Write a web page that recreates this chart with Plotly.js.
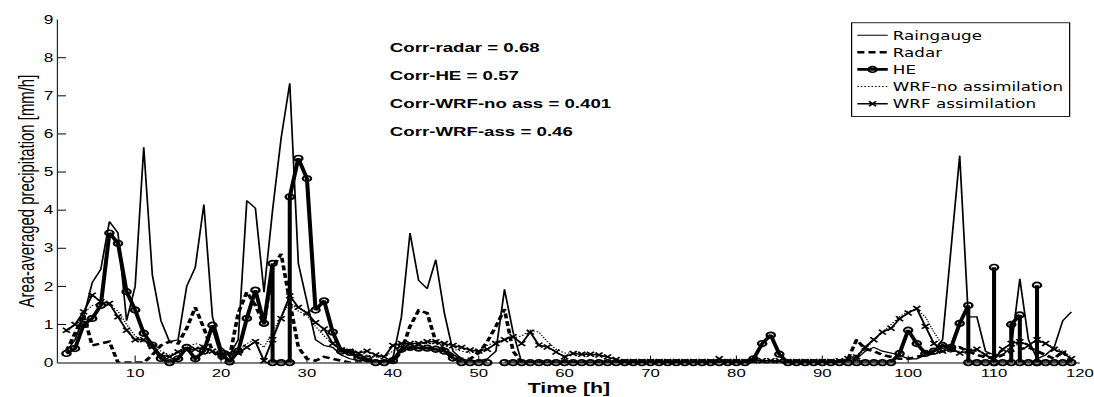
<!DOCTYPE html>
<html>
<head>
<meta charset="utf-8">
<script src="https://cdn.plot.ly/plotly-3.0.1.min.js"></script>
<style>
html, body { margin: 0; padding: 0; background: #fff; overflow: hidden; }
#wrap { width: 1094px; height: 397px; overflow: hidden; }
#chart { width: 1077.83px; height: 567.14px; transform: scale(1.015, 0.7); transform-origin: 0 0; }
</style>
</head>
<body>
<div id="wrap"><div id="chart"></div></div>
<script>
// Hours 2..119
const hours = [];
for (let h = 2; h <= 119; h++) hours.push(h);

const raingauge = [
  0.3, 0.6, 1.2, 2.1, 2.45, 3.7, 3.4, 1.1,          // 2-9
  2.0, 5.65, 2.3, 1.1, 0.55, 0.6, 2.0, 2.5, 4.15, 1.2, // 10-19
  0.4, 0.2, 0.6, 4.25, 4.05, 1.85, 4.0, 5.9, 7.33, 2.6, // 20-29
  1.6, 0.6, 0.45, 0.4, 0.2, 0.1, 0.05, 0.05, 0.05, 0.05, // 30-39
  0.1, 1.2, 3.4, 2.16, 1.94, 2.7, 1.3, 0.3, 0.1, 0.05, // 40-49
  0.05, 0.1, 0.3, 1.92, 0.8, 0, 0, 0, 0, 0,           // 50-59
  0, 0, 0, 0, 0, 0, 0, 0, 0, 0,                       // 60-69
  0, 0, 0, 0, 0, 0, 0, 0, 0, 0,                       // 70-79
  0, 0, 0, 0, 0, 0, 0, 0, 0, 0,                       // 80-89
  0, 0, 0, 0.05, 0.1, 0.3, 0.4, 0.3, 0.25, 0.2,       // 90-99
  0.1, 0.1, 0.2, 0.3, 0.6, 3.0, 5.43, 1.2, 1.2, 0.3,  // 100-109
  0.2, 0.2, 0.4, 2.2, 0.6, 0.1, 0.2, 0.4, 1.1, 1.33   // 110-119
];

const radar = [
  0.3, 0.8, 1.25, 0.45, 0.5, 0.55, 0.0, 0,            // 2-9
  0, 0, 0.2, 0.45, 0.55, 0.5, 0.9, 1.45, 0.9, 0.3,    // 10-19
  0.1, 0.15, 1.3, 1.85, 1.5, 1.0, 2.5, 2.85, 1.6, 0.4, // 20-29
  0.1, 0.05, 0.15, 0.1, 0.05, 0, 0, 0, 0, 0,          // 30-39
  0, 0.3, 0.95, 1.37, 1.3, 0.55, 0.35, 0.2, 0.1, 0.1, // 40-49
  0.25, 0.55, 0.95, 1.4, 0.3, 0, 0, 0, 0, 0,          // 50-59
  0, 0, 0, 0, 0, 0, 0, 0, 0, 0,                       // 60-69
  0, 0, 0, 0, 0, 0, 0, 0, 0, 0,                       // 70-79
  0, 0, 0, 0, 0, 0, 0, 0, 0, 0,                       // 80-89
  0, 0, 0, 0.1, 0.6, 0.35, 0.3, 0.2, 0.15, 0.1,       // 90-99
  0.1, 0.15, 0.2, 0.25, 0.3, 0.3, 0.4, 0.3, 0.2, 0.15, // 100-109
  0.1, 0.2, 0.3, 0.35, 0.4, 0.3, 0.2, 0.1, 0.3, 0.0   // 110-119
];

// HE: repeated hours mark the vertical jumps seen in the original series
const heTime = [
  2, 3, 4, 5, 6, 7, 8, 9, 10, 11, 12, 13, 14, 15, 16, 17, 18, 19,
  20, 21, 22, 23, 24, 25, 26, 26, 27, 28, 28, 29,
  30, 31, 32, 33, 34, 35, 36, 37, 38, 39,
  40, 41, 42, 43, 44, 45, 46, 47, 48, 49, 50, 51, 52,
  53, 54, 55, 56, 57, 58, 59, 60, 61, 62, 63, 64, 65, 66, 67, 68, 69,
  70, 71, 72, 73, 74, 75, 76, 77, 78, 79, 80, 81, 82, 83, 84, 85, 86, 87, 88, 89,
  90, 91, 92, 93, 94, 95, 96, 97, 98, 99,
  100, 101, 102, 103, 104, 105, 106, 107, 107, 108, 109,
  110, 110, 110, 111, 112, 112, 113, 113, 114, 115, 115, 115, 116, 117, 118, 119
];
const heValue = [
  0.24, 0.37, 1.0, 1.16, 1.5, 3.4, 3.13, 1.86, 1.38, 0.77, 0.46, 0.11, 0.0, 0.1, 0.4, 0.1, 0.3, 0.98,
  0.25, 0.02, 0.3, 1.16, 1.9, 1.03, 2.6, 0, 0, 0, 4.35, 5.36,
  4.83, 1.38, 1.62, 0.8, 0.3, 0.27, 0.13, 0.1, 0, 0,
  0.05, 0.35, 0.4, 0.38, 0.38, 0.35, 0.3, 0.12, 0, 0, 0, 0, null,
  0, 0, 0, 0, 0, 0, 0, 0, 0, 0, 0, 0, 0, 0, 0, 0, 0,
  0, 0, 0, 0, 0, 0, 0, 0, 0, 0, 0, 0, 0.1, 0.5, 0.72, 0.22, 0, 0, 0, 0,
  0, 0, 0, 0, 0, 0, 0, 0, 0, 0.24,
  0.85, 0.5, 0.24, 0.3, 0.45, 0.4, 1.03, 1.5, 0, 0, 0,
  0, 2.5, 0, 0, 0, 1.0, 1.25, 0, 0, 0, 2.03, 0, 0, 0, 0, 0
];

const wrfNoAss = [
  0.8, 1.0, 1.3, 1.5, 1.55, 1.5, 1.35, 1.0,           // 2-9
  0.7, 0.55, 0.45, 0.3, 0.2, 0.3, 0.4, 0.5, 0.45, 0.3, // 10-19
  0.2, 0.2, 0.3, 0.5, 0.6, 0.4, 0.8, 1.2, 1.6, 1.35,  // 20-29
  1.25, 0.95, 0.7, 0.5, 0.3, 0.25, 0.2, 0.2, 0.15, 0.15, // 30-39
  0.3, 0.45, 0.5, 0.5, 0.5, 0.5, 0.45, 0.35, 0.3, 0.25, // 40-49
  0.3, 0.45, 0.55, 0.6, 0.65, 0.7, 0.85, 0.8, 0.55, 0.35, // 50-59
  0.25, 0.25, 0.25, 0.22, 0.2, 0.15, 0.08, 0.03, 0.02, 0.02, // 60-69
  0.02, 0.02, 0.02, 0.02, 0.02, 0.02, 0.02, 0.02, 0.02, 0.02, // 70-79
  0.02, 0.02, 0.02, 0.02, 0.02, 0.02, 0.02, 0.02, 0.02, 0.02, // 80-89
  0.02, 0.03, 0.05, 0.1, 0.2, 0.35, 0.6, 0.8, 1.0, 1.2, // 90-99
  1.35, 1.4, 1.2, 0.8, 0.45, 0.3, 0.3, 0.25, 0.3, 0.25, // 100-109
  0.2, 0.3, 0.4, 0.5, 0.5, 0.55, 0.5, 0.4, 0.3, 0.15  // 110-119
];

const wrfAss = [
  0.85, 1.0, 1.33, 1.77, 1.6, 1.55, 1.2, 0.85,        // 2-9
  0.6, 0.6, 0.42, 0.2, 0.15, 0.28, 0.33, 0.35, 0.4, 0.3, // 10-19
  0.2, 0.25, 0.25, 0.4, 0.55, 0.05, 0.6, 1.15, 1.75, 1.45, // 20-29
  1.3, 1.05, 0.88, 0.5, 0.33, 0.3, 0.25, 0.3, 0.2, 0.15, // 30-39
  0.45, 0.5, 0.5, 0.5, 0.55, 0.55, 0.5, 0.45, 0.4, 0.33, // 40-49
  0.3, 0.35, 0.5, 0.6, 0.68, 0.5, 0.8, 0.46, 0.41, 0.28, // 50-59
  0.15, 0.24, 0.22, 0.22, 0.2, 0.15, 0.08, 0.03, 0.03, 0.03, // 60-69
  0.03, 0.03, 0.03, 0.03, 0.03, 0.03, 0.03, 0.03, 0.1, 0.03, // 70-79
  0.03, 0.03, 0.05, 0.05, 0.05, 0.05, 0.03, 0.03, 0.03, 0.03, // 80-89
  0.03, 0.03, 0.05, 0.1, 0.15, 0.41, 0.6, 0.8, 0.9, 1.15, // 90-99
  1.3, 1.42, 0.95, 0.5, 0.3, 0.35, 0.25, 0.3, 0.35, 0.2, // 100-109
  0.1, 0.35, 0.5, 0.55, 0.45, 0.6, 0.5, 0.35, 0.25, 0.1 // 110-119
];

const seriesNames = ['Raingauge', 'Radar', 'HE', 'WRF-no assimilation', 'WRF assimilation'];
const xTicks = [10, 20, 30, 40, 50, 60, 70, 80, 90, 100, 110, 120];
const yTicks = [0, 1, 2, 3, 4, 5, 6, 7, 8, 9];
const corrLabels = ['Corr-radar = 0.68', 'Corr-HE = 0.57', 'Corr-WRF-no ass = 0.401', 'Corr-WRF-ass = 0.46'];

const FONT = 'Liberation Sans, Arial, sans-serif';
const LEGEND_FONT = 'DejaVu Sans, Liberation Sans, sans-serif';

const traces = [
  { x: hours, y: raingauge, name: seriesNames[0], mode: 'lines',
    line: { color: '#000', width: 1.7 } },
  { x: hours, y: radar, name: seriesNames[1], mode: 'lines',
    line: { color: '#000', width: 3.6, dash: '7px,4px' } },
  { x: heTime, y: heValue, name: seriesNames[2], mode: 'lines+markers', connectgaps: false, cliponaxis: false,
    line: { color: '#000', width: 4 },
    marker: { symbol: 'circle-open', size: 8, color: '#000', line: { width: 2.4, color: '#000' } } },
  { x: hours, y: wrfNoAss, name: seriesNames[3], mode: 'lines',
    line: { color: '#000', width: 1.5, dash: '1.5px,2px' } },
  { x: hours, y: wrfAss, name: seriesNames[4], mode: 'lines+markers', cliponaxis: false,
    line: { color: '#000', width: 2 },
    marker: { symbol: 'x-thin', size: 7, color: '#000', line: { width: 2, color: '#000' } } }
];

const annYs = [0.92, 0.838, 0.755, 0.673];
const annotations = corrLabels.map((t, i) => ({
  text: t, xref: 'paper', yref: 'paper', x: 0.323, y: annYs[i],
  xanchor: 'left', yanchor: 'middle', showarrow: false,
  font: { family: FONT, size: 18.4, color: '#000', weight: 'bold' }
}));

const layout = {
  width: 1077.83, height: 567.14,
  margin: { l: 56.85, r: 13.8, t: 27.6, b: 49, pad: 0 },
  paper_bgcolor: '#fff', plot_bgcolor: '#fff',
  showlegend: true,
  legend: {
    x: 0.776, y: 0.992, xanchor: 'left', yanchor: 'top',
    bgcolor: '#fff', bordercolor: '#000', borderwidth: 1.2,
    font: { family: LEGEND_FONT, size: 16.5, color: '#000' },
    tracegroupgap: 0, itemwidth: 30
  },
  xaxis: {
    range: [1, 120], tickvals: xTicks, ticktext: xTicks.map(String),
    ticks: 'inside', ticklen: 10, tickcolor: '#000', tickwidth: 1,
    showline: true, linecolor: '#000', linewidth: 1.4, mirror: false,
    showgrid: false, zeroline: false, automargin: false, ticklabeloverflow: 'allow',
    tickfont: { family: FONT, size: 16.5, color: '#000' },
    title: { text: 'Time [h]', standoff: 0, font: { family: FONT, size: 21, color: '#000', weight: 'bold' } }
  },
  yaxis: {
    range: [0, 9], tickvals: yTicks, ticktext: yTicks.map(String),
    ticks: 'inside', ticklen: 8, tickcolor: '#000', tickwidth: 1.4,
    showline: true, linecolor: '#000', linewidth: 1, mirror: false,
    showgrid: false, zeroline: false, automargin: false, ticklabeloverflow: 'allow',
    tickfont: { family: FONT, size: 17, color: '#000' },
    title: { text: 'Area-averaged precipitation [mm/h]', standoff: 3, font: { family: FONT, size: 21.3, color: '#000' } }
  },
  annotations: annotations
};

Plotly.newPlot('chart', traces, layout, { displayModeBar: false, staticPlot: true });
</script>
</body>
</html>
